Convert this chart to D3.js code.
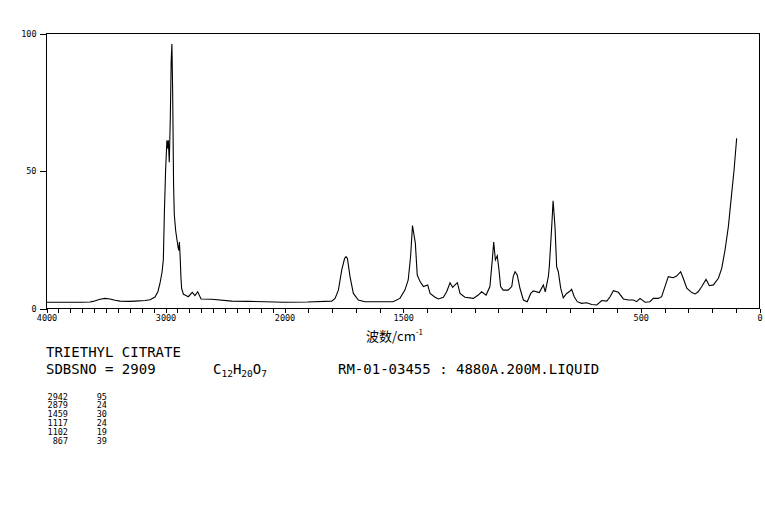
<!DOCTYPE html>
<html><head><meta charset="utf-8">
<script src="https://cdn.jsdelivr.net/npm/d3@7/dist/d3.min.js"></script>
<style>
body{margin:0;background:#fff;}
svg{display:block;}
</style></head>
<body>
<svg id="chart" width="765" height="510"></svg>
<script>
// Spectrum data (wavenumber cm-1, intensity %)
const wavenumbers = [4000,3800,3700,3630,3605,3546,3504,3462,3420,3378,3300,3252,3168,3126,3084,3059,3042,3025,3014,3005,2995,2990,2984,2978,2972,2964,2955,2948,2942,2936,2928,2922,2910,2900,2890,2884,2879,2872,2866,2860,2845,2832,2804,2771,2748,2725,2697,2608,2439,2300,2160,2000,1900,1799,1785,1771,1757,1745,1739,1733,1722,1708,1687,1659,1596,1541,1512,1491,1477,1467,1459,1447,1439,1427,1413,1395,1385,1364,1350,1329,1315,1301,1290,1280,1270,1259,1238,1203,1182,1168,1149,1133,1123,1117,1110,1102,1095,1088,1077,1056,1041,1035,1027,1018,1006,992,976,961,950,925,908,900,887,883,877,872,867,859,852,845,835,824,810,799,789,778,765,747,726,704,683,662,641,627,613,592,571,550,529,515,501,480,459,445,424,410,396,382,361,347,330,319,304,283,269,256,241,223,209,192,171,157,143,129,115,105,94];
const intensities = [2.1,2.1,2.1,2.2,2.4,3.2,3.5,3.3,2.8,2.5,2.4,2.5,2.7,3.0,4.0,6.0,9.0,13.0,17.5,35.0,50.0,55.0,61.0,58.0,61.0,53.0,70.0,90.0,96.0,80.0,45.0,34.0,28.0,25.0,22.0,21.0,24.0,18.0,11.0,7.0,5.0,4.7,4.1,5.7,4.5,5.9,3.3,3.2,2.5,2.4,2.3,2.1,2.2,2.5,3.5,6.5,13.8,18.0,18.7,18.0,11.4,5.3,2.9,2.3,2.3,2.3,3.5,6.5,10.2,18.7,30.0,23.6,12.0,9.6,7.8,8.4,5.3,3.9,3.3,3.9,5.9,9.2,7.5,8.4,9.2,5.3,3.9,3.5,4.7,5.9,4.7,7.8,17.5,24.0,17.5,19.0,14.0,7.8,6.5,6.5,7.8,11.4,13.2,12.0,7.0,2.9,2.3,5.3,6.2,5.6,8.4,5.9,11.4,15.0,23.5,30.8,39.0,29.6,15.0,13.2,7.2,3.7,5.3,5.9,6.8,4.1,2.3,1.7,1.9,1.3,1.1,2.7,2.5,4.1,6.3,5.7,3.3,2.9,2.9,2.3,3.5,2.1,2.3,3.5,3.5,4.1,7.8,11.4,11.0,11.6,13.2,10.8,7.2,5.6,5.1,5.9,7.8,10.4,8.1,8.4,10.8,14.4,21.1,29.6,41.7,50.2,61.7];

const xTickLabels = [4000,3000,2000,1500,500,0];
const yTickLabels = [100,50,0];
const compoundName = "TRIETHYL CITRATE";
const sdbsLine = "SDBSNO = 2909";
const formulaParts = [["C",""],["12","sub"],["H",""],["20","sub"],["O",""],["7","sub"]];
const sampleInfo = "RM-01-03455 : 4880A.200M.LIQUID";
const peakWavenumbers = ["2942","2879","1459","1117","1102","867"];
const peakIntensities = ["95","24","30","24","19","39"];

(function draw(){
const svg = d3.select("#chart");
const pL = 46, pR = 759, pT = 33, pB = 308;
const x = d3.scaleLinear().domain([4000,2000,0]).range([pL, 284, pR]);
const y = d3.scaleLinear().domain([0,100]).range([pB, pT]);
const mono = "'DejaVu Sans Mono', 'Liberation Mono', monospace";

// frame
svg.append("rect").attr("x", pL+0.5).attr("y", pT+0.5)
  .attr("width", pR-pL).attr("height", pB-pT)
  .attr("fill","none").attr("stroke","#000").attr("stroke-width",1)
  .attr("shape-rendering","crispEdges");

// x axis: minor ticks every 100
const xAxis = d3.axisBottom(x)
  .tickValues(d3.range(4000, -1, -100))
  .tickSize(4)
  .tickPadding(2)
  .tickFormat(d => xTickLabels.includes(d) ? String(d) : "");
const gx = svg.append("g").attr("transform", `translate(0.5,${pB+0.5})`).call(xAxis);
gx.select(".domain").remove();
gx.selectAll("line").attr("stroke","#000").attr("shape-rendering","crispEdges");
gx.selectAll("text").attr("font-family", mono).attr("font-size", 8.5).attr("fill","#000").attr("dy","0.8em");

// y axis
const yAxis = d3.axisLeft(y).tickValues(yTickLabels).tickSize(7).tickPadding(3);
const gy = svg.append("g").attr("transform", `translate(${pL+0.5},0.5)`).call(yAxis);
gy.select(".domain").remove();
gy.selectAll("line").attr("stroke","#000").attr("shape-rendering","crispEdges");
gy.selectAll("text").attr("font-family", mono).attr("font-size", 8.5).attr("fill","#000");

// spectrum
const data = wavenumbers.map((w,i) => [w, intensities[i]]);
svg.append("path").datum(data)
  .attr("fill","none").attr("stroke","#000").attr("stroke-width",1.1)
  .attr("d", d3.line().x(d => x(d[0])).y(d => y(d[1])));

// axis title
const title = svg.append("text").attr("x", 366).attr("y", 340.5)
  .attr("font-family","'Noto Sans CJK SC', sans-serif").attr("font-size", 13).attr("fill","#000");
title.append("tspan").text("波数/cm");
title.append("tspan").attr("font-size", 8).attr("dy", -6).text("-1");

// info text
svg.append("text").attr("x", 46).attr("y", 357).attr("font-family", mono).attr("font-size", 14)
  .attr("fill","#000").text(compoundName);
svg.append("text").attr("x", 46).attr("y", 374).attr("font-family", mono).attr("font-size", 14)
  .attr("fill","#000").text(sdbsLine);
const f = svg.append("text").attr("x", 213).attr("y", 374).attr("font-family", mono).attr("font-size", 14).attr("fill","#000");
formulaParts.forEach(([t,k], i) => {
  if (k === "sub") f.append("tspan").attr("font-size", 9.5).attr("dy", 3).text(t);
  else f.append("tspan").attr("dy", i ? -3 : 0).text(t);
});
svg.append("text").attr("x", 338).attr("y", 374).attr("font-family", mono).attr("font-size", 14)
  .attr("fill","#000").text(sampleInfo);

// peak table
const rowY = d3.scaleLinear().domain([0,1]).range([399.5, 408.3]);
peakWavenumbers.forEach((w,i) => {
  svg.append("text").attr("x", 68).attr("y", rowY(i)).attr("text-anchor","end")
    .attr("font-family", mono).attr("font-size", 8.5).attr("fill","#000").text(w);
  svg.append("text").attr("x", 107).attr("y", rowY(i)).attr("text-anchor","end")
    .attr("font-family", mono).attr("font-size", 8.5).attr("fill","#000").text(peakIntensities[i]);
});
})();
</script>
</body></html>
